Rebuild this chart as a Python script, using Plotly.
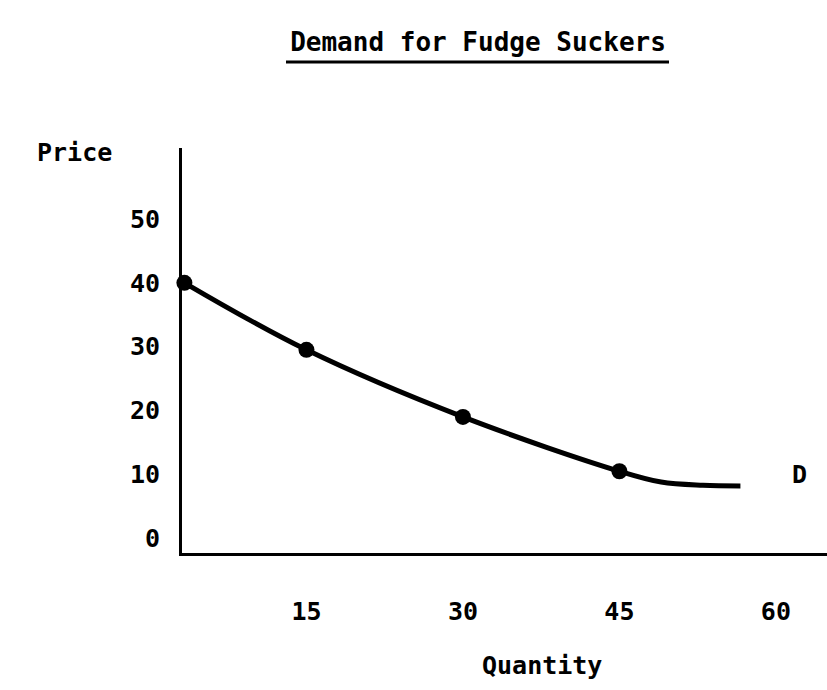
import plotly.graph_objects as go

# Data
quantity = [3.3, 15, 30, 45]
price = [40, 29.5, 19, 10.5]

# Demand curve trace (smooth line through the points and beyond)
curve_q = [3.3, 15, 30, 45, 49, 53, 56.6]
curve_p = [40, 29.5, 19, 10.5, 8.8, 8.3, 8.2]

x_ticks = [15, 30, 45, 60]
y_ticks = [0, 10, 20, 30, 40, 50]

title_text = "Demand for Fudge Suckers"
x_label = "Quantity"
y_label = "Price"
curve_label = "D"

FONT = "DejaVu Sans Mono"

fig = go.Figure()
fig.add_trace(go.Scatter(x=curve_q, y=curve_p, mode="lines",
                         line=dict(color="black", width=5, shape="spline", smoothing=1.0),
                         hoverinfo="skip", showlegend=False))
fig.add_trace(go.Scatter(x=quantity, y=price, mode="markers",
                         marker=dict(color="black", size=16),
                         cliponaxis=False, showlegend=False))

fig.update_layout(
    width=827, height=690,
    margin=dict(l=182, r=0, t=148, b=137),
    paper_bgcolor="white", plot_bgcolor="white",
    font=dict(family=FONT, size=25, color="black"),
    title=dict(text="<b>" + title_text + "</b>", x=478/827, y=1-42/690,
               xanchor="center", yanchor="middle",
               font=dict(family=FONT, size=26, color="black")),
    xaxis=dict(range=[3.07, 64.9], showgrid=False, zeroline=False,
               showline=True, linewidth=3, linecolor="black",
               tickvals=x_ticks, ticktext=["<b>%d</b>" % v for v in x_ticks],
               ticks="", ticklabelstandoff=34, fixedrange=True),
    yaxis=dict(range=[-2.3, 61.1], showgrid=False, zeroline=False,
               showline=True, linewidth=3, linecolor="black",
               tickvals=y_ticks, ticktext=["<b>%d</b>" % v for v in y_ticks],
               ticks="", ticklabelstandoff=14, fixedrange=True),
    showlegend=False,
)

# title underline
fig.add_shape(type="line", xref="paper", yref="paper",
              x0=(286-182)/645, x1=(669-182)/645,
              y0=(553-62)/405, y1=(553-62)/405,
              line=dict(color="black", width=3))

fig.add_annotation(text="<b>" + y_label + "</b>", xref="paper", yref="paper",
                   x=(74-182)/645, y=(553-152)/405, showarrow=False,
                   xanchor="center", yanchor="middle",
                   font=dict(family=FONT, size=25))
fig.add_annotation(text="<b>" + x_label + "</b>", xref="paper", yref="paper",
                   x=(542-182)/645, y=(553-665)/405, showarrow=False,
                   xanchor="center", yanchor="middle",
                   font=dict(family=FONT, size=25))
fig.add_annotation(text="<b>" + curve_label + "</b>", x=62.3, y=10,
                   showarrow=False, xanchor="center", yanchor="middle",
                   font=dict(family=FONT, size=25))

fig.write_html("out.html",
               config={"displayModeBar": False},
               post_script="document.body.style.margin='0';document.body.style.overflow='hidden';")
